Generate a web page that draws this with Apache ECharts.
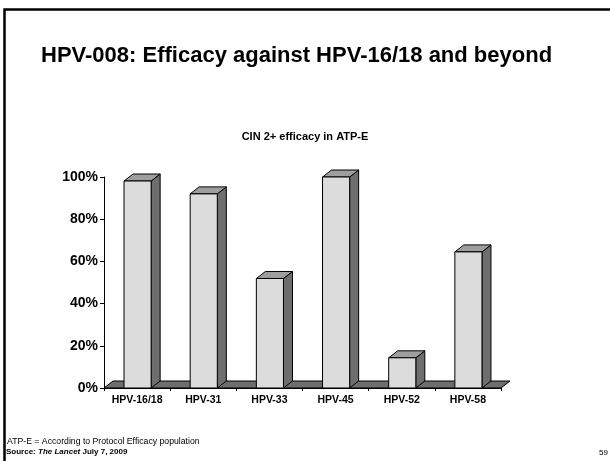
<!DOCTYPE html>
<html>
<head>
<meta charset="utf-8">
<script src="https://cdn.jsdelivr.net/npm/echarts@6/dist/echarts.min.js"></script>
<style>
  html, body { margin: 0; padding: 0; background: #fff; }
  #chart { width: 610px; height: 461px; }
</style>
</head>
<body>
<div id="chart"></div>
<script>
// data
var categories = ['HPV-16/18', 'HPV-31', 'HPV-33', 'HPV-45', 'HPV-52', 'HPV-58']
var efficacy = [98.1, 92.0, 51.9, 100, 14.3, 64.5]
var yTicks = [0, 20, 40, 60, 80, 100]

var FONT = "'Liberation Sans', Arial, sans-serif"
// 3d look of the columns
var DX = 9, DY = 7

function renderColumn(params, api) {
    var top = api.coord([api.value(0), api.value(1)])
    var base = api.coord([api.value(0), 0])
    var band = api.size([1, 0])[0]
    var w = band * 0.41
    var x0 = top[0] - w / 2 + 0.5, x1 = top[0] + w / 2 + 0.5
    var stroke = {stroke: '#000', lineWidth: 1}
    return {
        type: 'group',
        children: [
            {
                type: 'polygon',
                shape: {points: [[x1, top[1]], [x1 + DX, top[1] - DY], [x1 + DX, base[1] - DY], [x1, base[1]]]},
                style: Object.assign({fill: '#6e6e6e'}, stroke)
            },
            {
                type: 'polygon',
                shape: {points: [[x0, top[1]], [x0 + DX, top[1] - DY], [x1 + DX, top[1] - DY], [x1, top[1]]]},
                style: Object.assign({fill: '#9e9e9e'}, stroke)
            },
            {
                type: 'rect',
                shape: {x: x0, y: top[1], width: x1 - x0, height: base[1] - top[1]},
                style: Object.assign({fill: '#dcdcdc'}, stroke)
            }
        ]
    }
}

function renderFloor(params, api) {
    var cs = params.coordSys
    var yb = cs.y + cs.height
    return {
        type: 'polygon',
        shape: {points: [[cs.x, yb], [cs.x + DX, yb - DY], [cs.x + cs.width + DX, yb - DY], [cs.x + cs.width, yb]]},
        style: {fill: '#6e6e6e', stroke: '#000', lineWidth: 1}
    }
}

var chart = echarts.init(document.getElementById('chart'))

var option = {
    animation: false,
    backgroundColor: '#fff',
    textStyle: {fontFamily: FONT},
    title: [
        {
            text: 'HPV-008: Efficacy against HPV-16/18 and beyond',
            left: 41, top: 45, padding: 0,
            textStyle: {fontFamily: FONT, fontSize: 22, fontWeight: 'bold', color: '#000'}
        },
        {
            text: 'CIN 2+ efficacy in ATP-E',
            left: 'center', top: 131, padding: 0,
            textStyle: {fontFamily: FONT, fontSize: 11, fontWeight: 'bold', color: '#000'}
        }
    ],
    grid: {left: 104, right: 109, top: 177, bottom: 73},
    xAxis: {
        type: 'category',
        data: categories,
        axisLine: {lineStyle: {color: '#000', width: 1}},
        axisTick: {show: true, length: 3, lineStyle: {color: '#000'}},
        axisLabel: {fontFamily: FONT, fontSize: 10.5, fontWeight: 'bold', color: '#000', margin: 7}
    },
    yAxis: {
        type: 'value',
        min: yTicks[0],
        max: yTicks[yTicks.length - 1],
        interval: 20,
        axisLine: {show: true, lineStyle: {color: '#000', width: 1}},
        axisTick: {show: true, length: 4, lineStyle: {color: '#000'}},
        splitLine: {show: false},
        axisLabel: {formatter: '{value}%', fontFamily: FONT, fontSize: 14, fontWeight: 'bold', color: '#000', margin: 6}
    },
    series: [
        {
            type: 'custom',
            name: 'floor',
            renderItem: renderFloor,
            data: [[0, 0]],
            clip: false,
            z: 1,
            silent: true
        },
        {
            type: 'custom',
            name: 'CIN 2+ efficacy',
            renderItem: renderColumn,
            encode: {x: 0, y: 1},
            data: efficacy.map(function (v, i) { return [i, v] }),
            clip: false,
            z: 2
        }
    ],
    graphic: [
        // slide frame
        {type: 'polyline', shape: {points: [[4.5, 461], [4.5, 9.5], [610, 9.5]]},
         style: {stroke: '#000', lineWidth: 2.5, fill: null}, z: 10},
        {type: 'text', left: 7, top: 437,
         style: {text: 'ATP-E = According to Protocol Efficacy population', font: '8.7px ' + FONT, fill: '#000'}},
        {type: 'text', left: 6, top: 448,
         style: {
             text: '{b|Source: }{i|The Lancet}{b| July 7, 2009}',
             rich: {
                 b: {fontFamily: FONT, fontSize: 8, fontWeight: 'bold', fill: '#000', color: '#000'},
                 i: {fontFamily: FONT, fontSize: 8, fontWeight: 'bold', fontStyle: 'italic', fill: '#000', color: '#000'}
             }
         }},
        {type: 'text', left: 599, top: 449,
         style: {text: '59', font: '8px ' + FONT, fill: '#000'}}
    ]
}

chart.setOption(option)
</script>
</body>
</html>
